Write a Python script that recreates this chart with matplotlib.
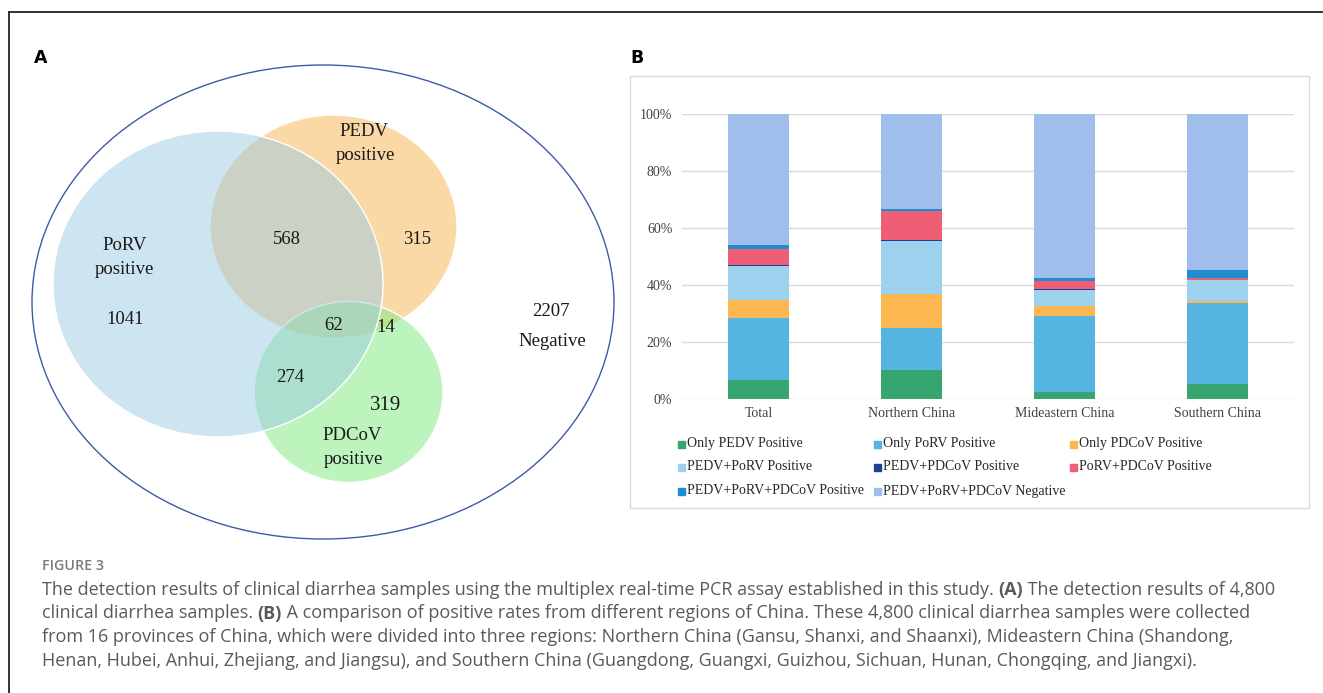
import matplotlib.pyplot as plt
from matplotlib.patches import Ellipse, Rectangle

W, H = 1323, 693

# panel B: share of samples (%) per region
regions = ["Total", "Northern China", "Mideastern China", "Southern China"]
series_names = ["Only PEDV Positive", "Only PoRV Positive", "Only PDCoV Positive",
                "PEDV+PoRV Positive", "PEDV+PDCoV Positive", "PoRV+PDCoV Positive",
                "PEDV+PoRV+PDCoV Positive", "PEDV+PoRV+PDCoV Negative"]
only_pedv = [6.56, 10.2, 2.3, 5.3]
only_porv = [21.69, 14.6, 26.9, 28.5]
only_pdcov = [6.65, 12.1, 3.6, 0.7]
pedv_porv = [11.83, 18.5, 5.6, 7.1]
pedv_pdcov = [0.29, 0.4, 0.1, 0.1]
porv_pdcov = [5.71, 10.2, 2.8, 0.6]
triple_pos = [1.29, 0.8, 1.2, 3.1]
triple_neg = [45.98, 33.2, 57.5, 54.6]
series_colors = ["#36a56f", "#56b4e0", "#fdb751", "#9cd2ee",
                 "#1f3f8f", "#ee5f76", "#1d8fd0", "#9fbeec"]
yticks = [0, 20, 40, 60, 80, 100]

# panel A: venn counts
n_porv_only = 1041
n_pedv_only = 315
n_pdcov_only = 319
n_pedv_porv = 568
n_pedv_pdcov = 14
n_porv_pdcov = 274
n_all = 62
n_negative = 2207

serif = "Liberation Serif"
sans = ["Open Sans", "DejaVu Sans"]

fig = plt.figure(figsize=(W / 100, H / 100), dpi=100)
fig.patch.set_facecolor("white")

# overlay axes in pixel units for the frame and the venn diagram
ov = fig.add_axes([0, 0, 1, 1])
ov.set_xlim(0, W)
ov.set_ylim(H, 0)
ov.axis("off")
ov.set_facecolor("none")

ov.plot([9, W], [12, 12], color="#333333", lw=1.4)
ov.plot([9, 9], [12, H], color="#333333", lw=1.4)

ov.text(41, 58, "A", fontsize=12.5, fontweight="bold", ha="center", va="center",
        family="DejaVu Sans")
ov.text(637, 58, "B", fontsize=12.5, fontweight="bold", ha="center", va="center",
        family="DejaVu Sans")

# venn circles
ov.add_patch(Ellipse((323, 302), 582, 474, fill=False, ec="#3d5ca6", lw=1.0))
ov.add_patch(Ellipse((333.5, 226.5), 247, 223, fc=(0.976, 0.706, 0.318, 0.5),
                     ec="white", lw=1))
ov.add_patch(Ellipse((348.5, 392), 189, 181, fc=(0.486, 0.922, 0.486, 0.5),
                     ec="white", lw=1))
ov.add_patch(Ellipse((218, 284), 330, 306, fc=(0.612, 0.796, 0.894, 0.5),
                     ec="white", lw=1))

vkw = dict(family=serif, fontsize=13.5, ha="center", va="center", color="#1a1a1a")
ov.text(364, 131, "PEDV", **vkw)
ov.text(365, 155, "positive", **vkw)
ov.text(125, 245, "PoRV", **vkw)
ov.text(124, 269, "positive", **vkw)
ov.text(352, 436, "PDCoV", **vkw)
ov.text(353, 459, "positive", **vkw)
ov.text(551, 312, str(n_negative), **vkw)
ov.text(552, 341, "Negative", **vkw)
ov.text(287, 239, str(n_pedv_porv), **vkw)
ov.text(417, 240, str(n_pedv_only), **vkw)
ov.text(125, 320, str(n_porv_only), **vkw)
ov.text(334, 326, str(n_all), **vkw)
ov.text(386, 328, str(n_pedv_pdcov), **vkw)
ov.text(290, 378, str(n_porv_pdcov), **vkw)
ov.text(386, 406, str(n_pdcov_only), **dict(vkw, fontsize=15))

# panel B frame
ov.add_patch(Rectangle((630, 76), 679, 432, fill=False, ec="#d9d9d9", lw=1))

# stacked bars
ax = fig.add_axes([682 / W, (H - 399) / H, (1294 - 682) / W, (399 - 114) / H])
ax.set_facecolor("none")
series = [only_pedv, only_porv, only_pdcov, pedv_porv,
          pedv_pdcov, porv_pdcov, triple_pos, triple_neg]
x = list(range(len(regions)))
bottom = [0.0] * len(regions)
for vals, col, name in zip(series, series_colors, series_names):
    ax.bar(x, vals, width=0.4, bottom=bottom, color=col, label=name, zorder=2)
    bottom = [b + v for b, v in zip(bottom, vals)]

ax.set_xlim(-0.5, len(regions) - 0.5)
ax.set_ylim(0, 100)
ax.set_yticks(yticks)
ax.set_yticklabels([f"{t}%" for t in yticks])
ax.set_xticks(x)
ax.set_xticklabels(regions)
for t in yticks:
    ax.axhline(t, color="#d9d9d9", lw=1, zorder=1)
for s in ax.spines.values():
    s.set_visible(False)
ax.tick_params(length=0, labelsize=10, colors="#404040")
ax.tick_params(axis="y", pad=7)
ax.tick_params(axis="x", pad=6)
for lab in ax.get_xticklabels() + ax.get_yticklabels():
    lab.set_family(serif)

# legend, three items per row
leg_x = [681, 877, 1073]
leg_y = [444, 467, 491]
for i, (name, col) in enumerate(zip(series_names, series_colors)):
    lx = leg_x[i % 3]
    ly = leg_y[i // 3]
    ov.add_patch(Rectangle((lx - 3.5, ly - 3.5), 7, 7, color=col))
    ov.text(lx + 6, ly, name, family=serif, fontsize=10, ha="left", va="center",
            color="#262626")

# caption
ov.text(42, 566, "FIGURE 3", family=sans, fontsize=10.3, fontweight="semibold",
        color="#7a7a7a", ha="left", va="center")

cap_lines = [
    [("The detection results of clinical diarrhea samples using the multiplex real-time "
      "PCR assay established in this study. ", "normal"), ("(A)", "bold"),
     (" The detection results of 4,800", "normal")],
    [("clinical diarrhea samples. ", "normal"), ("(B)", "bold"),
     (" A comparison of positive rates from different regions of China. These 4,800 "
      "clinical diarrhea samples were collected", "normal")],
    [("from 16 provinces of China, which were divided into three regions: Northern China "
      "(Gansu, Shanxi, and Shaanxi), Mideastern China (Shandong,", "normal")],
    [("Henan, Hubei, Anhui, Zhejiang, and Jiangsu), and Southern China (Guangdong, "
      "Guangxi, Guizhou, Sichuan, Hunan, Chongqing, and Jiangxi).", "normal")],
]
renderer = fig.canvas.get_renderer()
for k, runs in enumerate(cap_lines):
    cx = 42.0
    cy = 590 + k * 23.5
    for txt, wt in runs:
        t = ov.text(cx, cy, txt, family=sans, fontsize=13, fontweight=wt,
                    color="#5a5a5a", ha="left", va="center")
        bb = t.get_window_extent(renderer)
        cx += bb.width

fig.savefig("out.png", dpi=100)
